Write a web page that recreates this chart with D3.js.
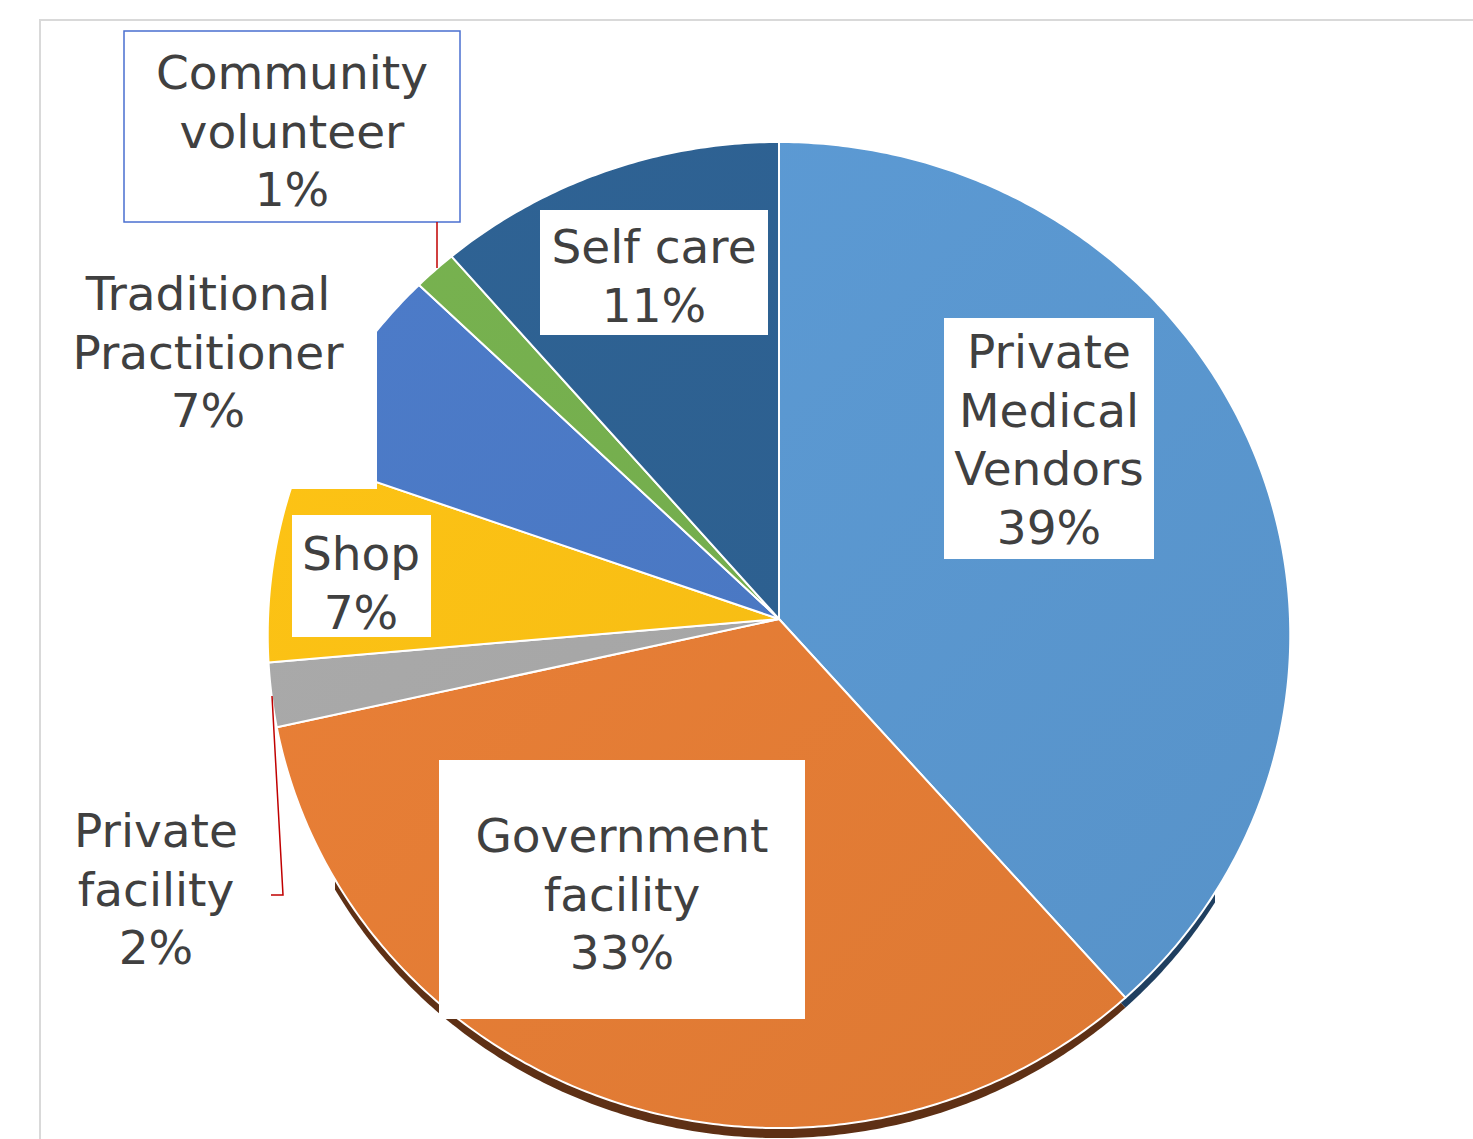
<!DOCTYPE html>
<html>
<head>
<meta charset="utf-8">
<script src="https://cdn.jsdelivr.net/npm/d3@7"></script>
<style>
  body { margin: 0; background: #fff; }
  svg { display: block; }
</style>
</head>
<body>
<script>
const w = 1473;
const h = 1139;

// data (share of respondents, %)
const categories = [
  "Private Medical Vendors",
  "Government facility",
  "Private facility",
  "Shop",
  "Traditional Practitioner",
  "Community volunteer",
  "Self care"
];
const shares = [38.5, 33.0, 2.1, 6.8, 6.8, 1.4, 11.4];
const colors = ["#5a97cf", "#e47c35", "#a6a6a6", "#f9be14", "#4a78c3", "#74ad4d", "#2d6090"];
const sideColors = ["#1f3f60", "#5e3015", "#555555", "#7a5d00", "#263f6c", "#3b5a26", "#1a3552"];

// label placement (how each name wraps, where its box sits)
const labelLayout = [
  { lines: ["Private", "Medical", "Vendors"], x: 1049, y: 368, box: [944, 318, 210, 241] },
  { lines: ["Government", "facility"], x: 622, y: 852, box: [439, 760, 366, 259] },
  { lines: ["Private", "facility"], x: 156, y: 847, box: null },
  { lines: ["Shop"], x: 361, y: 570, box: [292, 515, 139, 122] },
  { lines: ["Traditional", "Practitioner"], x: 208, y: 310, box: [55, 255, 322, 234] },
  { lines: ["Community", "volunteer"], x: 292, y: 89, box: [124, 31, 336, 191], border: true },
  { lines: ["Self care"], x: 654, y: 263, box: [540, 210, 228, 125] }
];

// tilted disc: centre, radii, perspective
const cx = 779, cy = 619;
const K = 511, KB = 492.5, A = 0.0325;
const depth = 10;

function project(theta) {
  const X = Math.sin(theta);
  const Y = -Math.cos(theta);
  const q = 1 - A * Y;
  return [cx + (K * X) / q, cy + (KB * Y) / q];
}

const pie = d3.pie().sort(null).value(d => d);
const arcs = pie(shares);
const line = d3.line();

function slicePath(a) {
  const n = Math.max(2, Math.ceil((a.endAngle - a.startAngle) / 0.01));
  const pts = [[cx, cy]];
  for (let i = 0; i <= n; i++) {
    pts.push(project(a.startAngle + ((a.endAngle - a.startAngle) * i) / n));
  }
  return line(pts) + "Z";
}

const svg = d3
  .select("body")
  .append("svg")
  .attr("width", w)
  .attr("height", h);

const defs = svg.append("defs");

colors.forEach((c, i) => {
  const g = defs
    .append("linearGradient")
    .attr("id", "grad" + i)
    .attr("gradientUnits", "userSpaceOnUse")
    .attr("x1", cx - K)
    .attr("y1", cy - KB)
    .attr("x2", cx + K)
    .attr("y2", cy + KB);
  g.append("stop").attr("offset", 0).attr("stop-color", d3.color(c).brighter(0.1));
  g.append("stop").attr("offset", 1).attr("stop-color", d3.color(c).darker(0.1));
});

defs
  .append("clipPath")
  .attr("id", "sideClip")
  .append("rect")
  .attr("x", 335)
  .attr("y", cy)
  .attr("width", 880)
  .attr("height", h - cy);

// chart frame
svg
  .append("path")
  .attr("d", "M40," + h + "V20H" + w)
  .attr("fill", "none")
  .attr("stroke", "#d9d9d9")
  .attr("stroke-width", 2);

// side of the disc
svg
  .append("g")
  .attr("clip-path", "url(#sideClip)")
  .append("g")
  .attr("transform", "translate(0," + depth + ")")
  .selectAll("path")
  .data(arcs)
  .enter()
  .append("path")
  .attr("d", slicePath)
  .attr("fill", (d, i) => sideColors[i]);

// top of the disc
svg
  .append("g")
  .selectAll("path")
  .data(arcs)
  .enter()
  .append("path")
  .attr("d", slicePath)
  .attr("fill", (d, i) => "url(#grad" + i + ")")
  .attr("stroke", "#fff")
  .attr("stroke-width", 2)
  .attr("stroke-linejoin", "round");

// label boxes
svg
  .append("g")
  .selectAll("rect")
  .data(labelLayout.filter(d => d.box))
  .enter()
  .append("rect")
  .attr("x", d => d.box[0])
  .attr("y", d => d.box[1])
  .attr("width", d => d.box[2])
  .attr("height", d => d.box[3])
  .attr("fill", "#fff")
  .attr("stroke", d => (d.border ? "#4a6fd0" : "none"))
  .attr("stroke-width", 1.5);

// leader lines
const leaders = [
  [[437, 222], [437, 268]],
  [[271, 895], [283, 895], [272, 696]]
];
svg
  .append("g")
  .selectAll("path")
  .data(leaders)
  .enter()
  .append("path")
  .attr("d", d => line(d))
  .attr("fill", "none")
  .attr("stroke", "#c00000")
  .attr("stroke-width", 1.5);

// label text
const lineH = 58.5;
const labels = svg
  .append("g")
  .attr("font-family", "'DejaVu Sans', Verdana, sans-serif")
  .attr("font-size", "47px")
  .attr("fill", "#404040")
  .attr("text-anchor", "middle");

labelLayout.forEach((l, i) => {
  const rows = l.lines.concat([Math.round(shares[i]) + "%"]);
  const t = labels
    .append("text")
    .attr("x", l.x)
    .attr("y", l.y)
    .attr("data-name", categories[i]);
  rows.forEach((r, j) => {
    t.append("tspan")
      .attr("x", l.x)
      .attr("y", l.y + j * lineH)
      .text(r);
  });
});
</script>
</body>
</html>
